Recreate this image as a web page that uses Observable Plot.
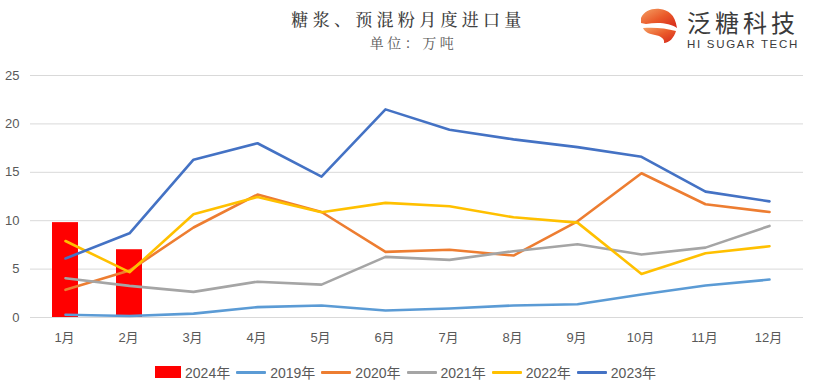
<!DOCTYPE html>
<html>
<head>
<meta charset="utf-8">
<script src="https://cdn.jsdelivr.net/npm/d3@7"></script>
<script src="https://cdn.jsdelivr.net/npm/@observablehq/plot@0.6"></script>
<style>
  body { margin: 0; background: #fff; }
  #wrap { position: relative; width: 813px; height: 388px; overflow: hidden; font-family: "Liberation Sans", "Noto Sans CJK SC", sans-serif; }
  #header { position: relative; height: 60px; }
  #title { position: absolute; left: 0; width: 813px; top: 6px; text-align: center; font-family: "Noto Serif CJK SC", "Noto Sans CJK SC"; font-size: 17px; font-weight: 500; letter-spacing: 4.3px; color: #404040; padding-left: 4px; box-sizing: border-box; }
  #subtitle { position: absolute; left: 0; width: 813px; top: 32px; text-align: center; font-family: "Noto Serif CJK SC", "Noto Sans CJK SC"; font-size: 14px; letter-spacing: 3.5px; color: #595959; padding-left: 14px; box-sizing: border-box; }
  #logo { position: absolute; left: 638px; top: 5px; width: 175px; height: 48px; }
  #legend { position: absolute; top: 362px; left: 0; width: 813px; display: flex; justify-content: center; align-items: center; font-size: 14px; color: #595959; padding-right: 2px; box-sizing: border-box; }
  .item { display: flex; align-items: center; margin: 0 3px; }
  .sw { display: inline-block; margin-right: 4px; }
</style>
</head>
<body>
<div id="wrap">
  <div id="header">
    <div id="title">糖浆、预混粉月度进口量</div>
    <div id="subtitle">单位：万吨</div>
    <svg id="logo" viewBox="0 0 175 48">
      <defs>
        <linearGradient id="lg" x1="0" y1="0" x2="1" y2="1">
          <stop offset="0" stop-color="#f4a064"/>
          <stop offset="0.5" stop-color="#ea5a2a"/>
          <stop offset="1" stop-color="#d4261b"/>
        </linearGradient>
      </defs>
      <path d="M3,13 C6,6 14,3 22,4 C30,5 37,9 39,23 C32,18 20,17 8,19 L3,18 Z" fill="url(#lg)"/>
      <path d="M5,23 C15,22 28,23 38,26 C36,33 31,38 26,38 C27,34 23,31 17,30 C11,29 7,27 5,23 Z" fill="url(#lg)"/>
      <text x="49" y="27" font-family="Noto Sans CJK SC" font-size="24" fill="#3a3a3a" letter-spacing="4">泛糖科技</text>
      <text x="49" y="43" font-family="Liberation Sans" font-size="11.5" fill="#3a3a3a" letter-spacing="1.7">HI SUGAR TECH</text>
    </svg>
  </div>
  <div id="chart"></div>
  <div id="legend"></div>
</div>
<script>
const months = ["1月","2月","3月","4月","5月","6月","7月","8月","9月","10月","11月","12月"];
const v2024 = [9.8, 7.0];
const v2019 = [0.28, 0.15, 0.4, 1.07, 1.24, 0.72, 0.93, 1.24, 1.37, 2.37, 3.3, 3.92];
const v2020 = [2.86, 4.85, 9.3, 12.7, 10.9, 6.78, 7.0, 6.4, 9.94, 14.9, 11.7, 10.9];
const v2021 = [4.06, 3.27, 2.65, 3.7, 3.4, 6.26, 5.95, 6.85, 7.57, 6.5, 7.22, 9.46];
const v2022 = [7.9, 4.68, 10.66, 12.45, 10.87, 11.84, 11.5, 10.35, 9.8, 4.5, 6.64, 7.36];
const v2023 = [6.1, 8.7, 16.3, 18.0, 14.55, 21.5, 19.4, 18.4, 17.6, 16.6, 13.0, 12.0];
const yTicks = [0, 5, 10, 15, 20, 25];

const lineSeries = [
  {name: "2019年", values: v2019, color: "#5B9BD5"},
  {name: "2020年", values: v2020, color: "#ED7D31"},
  {name: "2021年", values: v2021, color: "#A5A5A5"},
  {name: "2022年", values: v2022, color: "#FFC000"},
  {name: "2023年", values: v2023, color: "#4472C4"}
];
const barData = v2024.map((v, i) => ({month: months[i], value: v}));

const marks = [
  Plot.gridY(yTicks, {stroke: "#d9d9d9", strokeOpacity: 1, strokeWidth: 1}),
  Plot.barY(barData, {x: "month", y: "value", fill: "#FF0000"}),
  ...lineSeries.map(s => Plot.lineY(s.values.map((v, i) => ({month: months[i], value: v})),
    {x: "month", y: "value", stroke: s.color, strokeWidth: 2.6, strokeLinejoin: "round"})),
  Plot.axisY(yTicks, {tickSize: 0, tickPadding: 11, fontSize: 13, fill: "#595959", label: null}),
  Plot.axisX(months, {tickSize: 0, tickPadding: 15, fontSize: 13, fill: "#595959", label: null, dx: -1})
];

const chart = Plot.plot({
  width: 813,
  height: 290,
  marginTop: 15,
  marginBottom: 33,
  marginLeft: 30,
  marginRight: 10,
  style: {fontFamily: "'Liberation Sans', 'Noto Sans CJK SC', sans-serif", color: "#595959", background: "#fff"},
  x: {type: "band", domain: months, paddingInner: 0.6, paddingOuter: 0.3, label: null},
  y: {domain: [0, 25], label: null},
  marks
});
document.getElementById("chart").appendChild(chart);

const legend = document.getElementById("legend");
const items = [{name: "2024年", color: "#FF0000", bar: true}, ...lineSeries];
for (const it of items) {
  const d = document.createElement("div");
  d.className = "item";
  const sw = document.createElement("span");
  sw.className = "sw";
  if (it.bar) { sw.style.width = "26px"; sw.style.height = "12px"; }
  else { sw.style.width = "30px"; sw.style.height = "3px"; sw.style.borderRadius = "1px"; }
  sw.style.background = it.color;
  d.appendChild(sw);
  const t = document.createElement("span");
  t.textContent = it.name;
  d.appendChild(t);
  legend.appendChild(d);
}
</script>
</body>
</html>
